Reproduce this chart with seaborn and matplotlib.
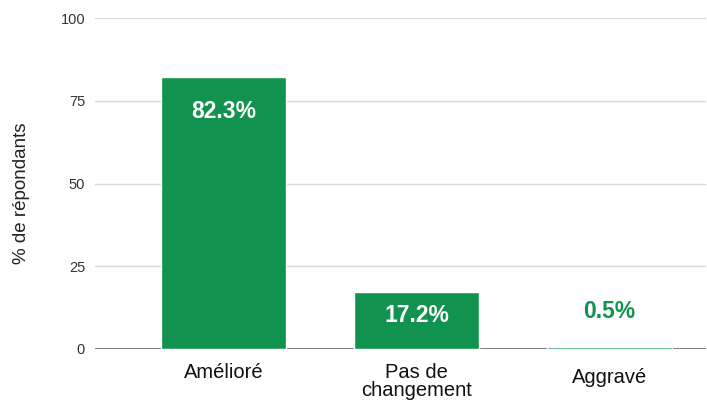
import matplotlib
matplotlib.use("Agg")
import matplotlib.pyplot as plt
import matplotlib.transforms as mtransforms
import seaborn as sns
import pandas as pd

# data
categories = ["Amélioré", "Pas de\nchangement", "Aggravé"]
values = [82.3, 17.2, 0.5]
labels = ["82.3%", "17.2%", "0.5%"]
yticks = [0, 25, 50, 75, 100]

green = "#11934f"

sns.set_theme(style="white")
plt.rcParams['font.family'] = ['Liberation Sans', 'DejaVu Sans']

df = pd.DataFrame({"cat": categories, "val": values})

fig = plt.figure(figsize=(7.07, 4.0), dpi=100)
ax = fig.add_axes([0.134, 0.1275, 0.864, 0.8275])

sns.barplot(data=df, x="cat", y="val", color=green, width=0.65,
            saturation=1, ax=ax, zorder=3)

ax.set_ylim(0, 100)
ax.set_xlim(-0.67, 2.5)
ax.set_yticks(yticks)
ax.set_yticklabels([str(t) for t in yticks], fontsize=10.5, color="#333333")
ax.grid(axis="y", color="#d9d9d9", linewidth=1, zorder=0)
ax.axhline(0, color="#666666", linewidth=1.2, zorder=2)
for s in ax.spines.values():
    s.set_visible(False)
ax.tick_params(axis="y", length=0, pad=7)
ax.tick_params(axis="x", length=0, pad=10)

ax.set_xlabel("")
ax.set_ylabel("% de répondants", fontsize=13.5, color="#222222")
ax.yaxis.set_label_coords(-0.106, 0.47)

for lab in ax.get_xticklabels():
    lab.set_fontsize(14.5)
    lab.set_color("#111111")
    lab.set_linespacing(0.95)
# "Aggravé" sits a bit lower in the reference
agg = ax.get_xticklabels()[2]
agg.set_transform(agg.get_transform() + mtransforms.ScaledTranslation(0, -5 / 100, fig.dpi_scale_trans))

# value labels (offsets in points)
offsets = [-25, -17, 26]
for i, (v, t) in enumerate(zip(values, labels)):
    inside = v > 10
    ax.annotate(t, (i, v), xytext=(0, offsets[i]), textcoords="offset points",
                ha="center", va="center",
                color="white" if inside else green,
                fontsize=16.5, fontweight="bold", zorder=5)

fig.savefig("out.png", dpi=100)
